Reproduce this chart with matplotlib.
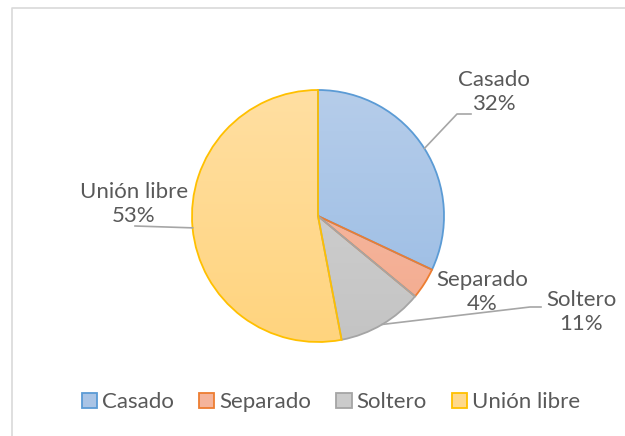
import numpy as np
import matplotlib.pyplot as plt
from matplotlib.patches import Patch
from matplotlib.colors import to_rgb

# Data
categories = ["Casado", "Separado", "Soltero", "Unión libre"]
shares = [32, 4, 11, 53]
pct_labels = ["32%", "4%", "11%", "53%"]

# Styling
edge_colors = ["#5B9BD5", "#ED7D31", "#A5A5A5", "#FFC000"]
top_colors = ["#B6CDEA", "#F7BEA8", "#D4D4D4", "#FFDFA2"]
bottom_colors = ["#98BBE4", "#F3AA8E", "#C4C4C4", "#FFD47E"]
legend_colors = ["#A9C4E6", "#F5B49B", "#CBCBCB", "#FFD98C"]
TEXT = "#595959"
FONT = "Lato"
FS = 16

W, H = 625, 436
fig = plt.figure(figsize=(W / 100, H / 100), dpi=100)
ax = fig.add_axes([0, 0, 1, 1])

# light frame (top and left visible in reference)
ax.plot([12, 12, W + 5], [H + 5, 8, 8], color="#D9D9D9", lw=1.2, zorder=0)

cx, cy, r = 318, 216, 126
wedges, _ = ax.pie(shares, center=(cx, cy), radius=r, startangle=-90,
                   counterclock=True, frame=True,
                   wedgeprops=dict(linewidth=1.3))

# vertical gradient in each wedge
for w, ec, c0, c1 in zip(wedges, edge_colors, top_colors, bottom_colors):
    w.set_facecolor("none")
    w.set_edgecolor(ec)
    w.set_zorder(3)
    t = np.linspace(0, 1, 256)[:, None]
    grad = (1 - t) * np.array(to_rgb(c0)) + t * np.array(to_rgb(c1))
    img = np.repeat(grad[:, None, :], 2, axis=1)
    im = ax.imshow(img, extent=(cx - r, cx + r, cy + r, cy - r),
                   origin="upper", aspect="auto", zorder=2)
    im.set_clip_path(w)
ax.set_xlim(0, W)
ax.set_ylim(H, 0)
ax.axis("off")

# data labels
label_pos = [(494, 92), (482, 292), (581, 312), (134, 204)]
elbows = [(457, 114, 471), None, (530, 307, 541), (135, 226, 135)]
for w, name, pct, (tx, ty), elb in zip(wedges, categories, pct_labels, label_pos, elbows):
    ax.text(tx, ty, f"{name}\n{pct}", ha="center", va="center", fontsize=FS,
            color=TEXT, family=FONT, linespacing=1.3, zorder=5)
    if elb is not None:
        mid = np.deg2rad((w.theta1 + w.theta2) / 2)
        px, py = cx + r * np.cos(mid), cy + r * np.sin(mid)
        ex, ey, hx = elb
        ax.plot([px, ex, hx], [py, ey, ey], color="#A6A6A6", lw=1.2, zorder=4)

handles = [Patch(facecolor=fc, edgecolor=ec, linewidth=1.3)
           for fc, ec in zip(legend_colors, edge_colors)]
leg = fig.legend(handles, categories, loc="center", ncol=4,
                 bbox_to_anchor=(331 / W, 1 - 402 / H), frameon=False,
                 prop={"family": FONT, "size": FS}, labelcolor=TEXT,
                 handlelength=0.68, handleheight=0.68, handletextpad=0.22,
                 columnspacing=1.15, borderpad=0.2)

fig.savefig("out.png", dpi=100)
